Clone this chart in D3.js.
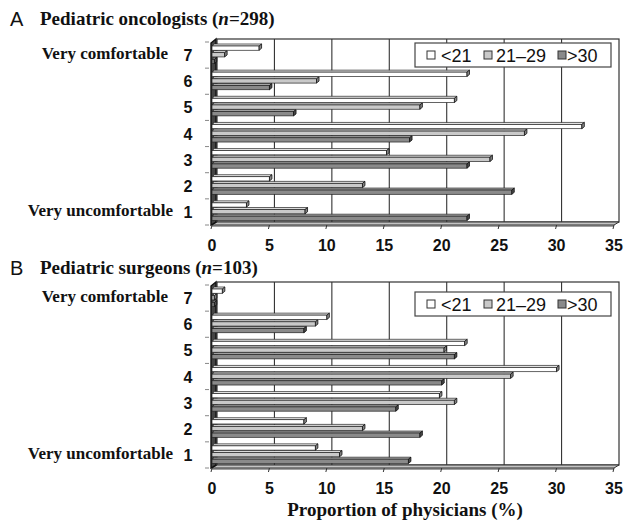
<!DOCTYPE html>
<html>
<head>
<meta charset="utf-8">
<script src="https://cdn.jsdelivr.net/npm/d3@7"></script>
<style>
  body{margin:0;background:#fff;}
  svg{display:block;}
  .serif{font-family:"Liberation Serif","Times New Roman",serif;font-weight:bold;fill:#111;}
  .sans{font-family:"Liberation Sans",Arial,sans-serif;fill:#111;}
</style>
</head>
<body>
<div id="chart"></div>
<script>
/* Two 3D-style clustered bar panels: comfort level (1-7) by years in practice. */
var categories=[7,6,5,4,3,2,1];
var seriesNames=["<21","21\u201329",">30"];
var xTicks=[0,5,10,15,20,25,30,35];

// panel A, pediatric oncologists, values in category order 7..1
var oncUnder21=[4.1,22.2,21.1,32.2,15.2,5.0,3.0];
var onc21to29=[1.1,9.1,18.1,27.2,24.2,13.1,8.1];
var oncOver30=[0.2,5.0,7.1,17.2,22.2,26.1,22.2];
// panel B, pediatric surgeons
var surUnder21=[0.9,10.0,22.0,30.0,19.8,8.0,9.0];
var sur21to29=[0.2,9.0,20.2,26.0,21.1,13.1,11.1];
var surOver30=[0.2,8.0,21.1,20.0,16.0,18.1,17.1];

var W=624,H=522;
var svg=d3.select("#chart").append("svg").attr("width",W).attr("height",H);

var x=d3.scaleLinear().domain([0,35]).range([212,614]);
var fills={"<21":"#ffffff","21\u201329":"#c9c9c9",">30":"#8a8a8a"};
var tops={"<21":"#eeeeee","21\u201329":"#dedede",">30":"#ababab"};
var caps={"<21":"#8a8a8a","21\u201329":"#808080",">30":"#4a4a4a"};
var DXW=5,DYW=3,DX=2.5,DY=2;

function drawPanel(p){
    var g=svg.append("g");
    var y=d3.scaleBand().domain(categories).range([p.top,p.bottom]);
    var inner=d3.scaleBand().domain(seriesNames).range([2,22]);
    var x0=x(0),x1=x(35);

    // back wall
    g.append("rect").attr("x",x0+DXW).attr("y",p.top-DYW).attr("width",x1-x0).attr("height",p.bottom-p.top)
        .attr("fill","#fff").attr("stroke","#333").attr("stroke-width",1.2);
    xTicks.slice(1,-1).forEach(function(v){
        g.append("line").attr("x1",x(v)+DXW).attr("x2",x(v)+DXW).attr("y1",p.top-DYW).attr("y2",p.bottom-DYW)
            .attr("stroke","#333").attr("stroke-width",1.1);
    });

    // floor
    g.append("path").attr("d","M"+x0+","+p.bottom+"L"+(x0+DXW)+","+(p.bottom-DYW)+"L"+(x1+DXW)+","+(p.bottom-DYW)+"L"+x1+","+p.bottom+"Z")
        .attr("fill","#c4c4c4").attr("stroke","#333").attr("stroke-width",1);
    g.append("line").attr("x1",x0).attr("x2",x1).attr("y1",p.bottom+1).attr("y2",p.bottom+1).attr("stroke","#444").attr("stroke-width",1);
    xTicks.forEach(function(v){
        g.append("line").attr("x1",x(v)).attr("x2",x(v)-1).attr("y1",p.bottom).attr("y2",p.bottom+4).attr("stroke","#333").attr("stroke-width",1);
    });

    // left wall
    g.append("path").attr("d","M"+(x0-1)+","+(p.top+1)+"L"+(x0+DXW-1)+","+(p.top-DYW)+"L"+(x0+DXW-1)+","+(p.bottom-DYW)+"L"+(x0-1)+","+p.bottom+"Z")
        .attr("fill","#444").attr("stroke","#111").attr("stroke-width",1.4);
    categories.concat([0]).forEach(function(c,i){
        var yy=p.top+i*y.bandwidth();
        g.append("line").attr("x1",205).attr("x2",209).attr("y1",yy).attr("y2",yy).attr("stroke","#888").attr("stroke-width",1);
    });

    // bars, bottom category first, lowest series first so upper bars overlap top faces
    categories.slice().reverse().forEach(function(c){
        var ci=categories.indexOf(c);
        seriesNames.slice().reverse().forEach(function(s){
            var v=p.values[seriesNames.indexOf(s)][ci];
            var yt=y(c)+inner(s);
            var yf=yt+DY, yb=yt+inner.bandwidth()-0.4;
            var xe=x(v);
            g.append("path").attr("d","M"+x0+","+yf+"L"+(x0+DX)+","+(yf-DY)+"L"+(xe+DX)+","+(yf-DY)+"L"+xe+","+yf+"Z")
                .attr("fill",tops[s]).attr("stroke","#222").attr("stroke-width",0.7);
            g.append("rect").attr("x",x0).attr("y",yf).attr("width",Math.max(0,xe-x0)).attr("height",yb-yf)
                .attr("fill",fills[s]).attr("stroke","#222").attr("stroke-width",0.7);
            g.append("path").attr("d","M"+xe+","+yf+"L"+(xe+DX)+","+(yf-DY)+"L"+(xe+DX)+","+(yb-DY)+"L"+xe+","+yb+"Z")
                .attr("fill",caps[s]).attr("stroke","#111").attr("stroke-width",0.8);
        });
    });

    // category labels
    categories.forEach(function(c){
        var mid=y(c)+y.bandwidth()/2;
        g.append("text").attr("class","sans").attr("x",188).attr("y",mid+6).attr("text-anchor","middle")
            .attr("font-size",16).attr("font-weight","bold").text(c);
    });
    g.append("text").attr("class","serif").attr("x",168).attr("y",y(7)+y.bandwidth()/2+4).attr("text-anchor","end")
        .attr("font-size",17).text("Very comfortable");
    g.append("text").attr("class","serif").attr("x",173).attr("y",y(1)+y.bandwidth()/2+4).attr("text-anchor","end")
        .attr("font-size",17).text("Very uncomfortable");

    // x tick labels
    xTicks.forEach(function(v){
        g.append("text").attr("class","sans").attr("x",x(v)).attr("y",p.bottom+26).attr("text-anchor","middle")
            .attr("font-size",16).attr("font-weight","bold").text(v);
    });

    // title
    g.append("text").attr("class","sans").attr("x",10).attr("y",p.titleY+1).attr("font-size",20).text(p.letter);
    var t=g.append("text").attr("class","serif").attr("x",40).attr("y",p.titleY).attr("font-size",19);
    t.append("tspan").text(p.title+" (");
    t.append("tspan").attr("font-style","italic").text("n");
    t.append("tspan").text("="+p.n+")");

    // legend
    var lg=g.append("g").attr("transform","translate(415,"+p.legendY+")");
    lg.append("rect").attr("width",196).attr("height",24).attr("fill","#fff").attr("stroke","#444").attr("stroke-width",1.2);
    var sx=[12,69,143],tx=[26,81,152];
    seriesNames.forEach(function(s,i){
        lg.append("rect").attr("x",sx[i]).attr("y",8).attr("width",8).attr("height",8)
            .attr("fill",fills[s]).attr("stroke","#333").attr("stroke-width",1);
        lg.append("text").attr("class","sans").attr("x",tx[i]).attr("y",19).attr("font-size",18).text(s);
    });
}

drawPanel({top:42,bottom:225,titleY:25,letter:"A",title:"Pediatric oncologists",n:298,legendY:43,
    values:[oncUnder21,onc21to29,oncOver30]});
drawPanel({top:285,bottom:468,titleY:274,letter:"B",title:"Pediatric surgeons",n:103,legendY:292,
    values:[surUnder21,sur21to29,surOver30]});

svg.append("text").attr("class","serif").attr("x",405).attr("y",516).attr("text-anchor","middle")
    .attr("font-size",19).text("Proportion of physicians (%)");
</script>
</body>
</html>
